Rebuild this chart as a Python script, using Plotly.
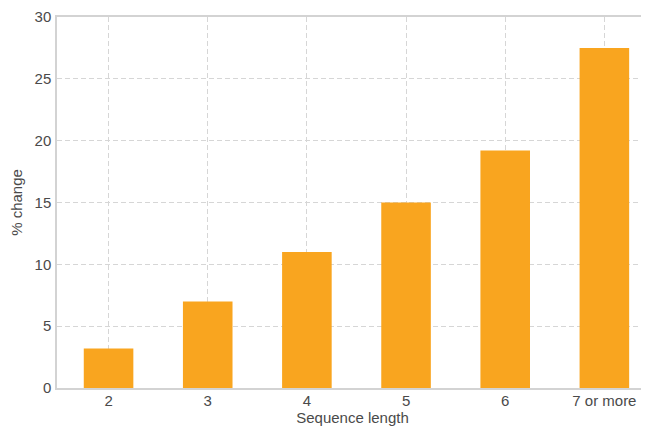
import plotly.graph_objects as go

categories = ["2", "3", "4", "5", "6", "7 or more"]
pct_change = [3.2, 7.0, 11.0, 15.0, 19.2, 27.5]
y_ticks = [0, 5, 10, 15, 20, 25, 30]

FONT = "Liberation Sans, Arial, sans-serif"

fig = go.Figure()
fig.add_trace(go.Bar(
    x=list(range(len(categories))), y=pct_change,
    marker=dict(color="#F9A51F", line=dict(width=0)),
    width=0.5,
))

axis_common = dict(
    showline=True, linecolor="#d3d3d3", linewidth=1.5, mirror=True,
    showgrid=True, gridcolor="#d6d6d6", griddash="5px,3px", gridwidth=1,
    ticks="", zeroline=False,
    tickfont=dict(family=FONT, size=15, color="#4a4a4a"),
    title_font=dict(family=FONT, size=15, color="#4a4a4a"),
    ticklabeloverflow="allow",
)

# page body has an 8px default margin; figure is sized so the plot area
# lands where the reference has it
fig.update_layout(
    width=642, height=422,
    margin=dict(l=49, r=0, t=8, b=42),
    plot_bgcolor="white", paper_bgcolor="white",
    showlegend=False,
    xaxis=dict(
        tickmode="array", tickvals=list(range(len(categories))), ticktext=categories,
        range=[-0.52, 5.44], title=dict(text="Sequence length", standoff=2),
        ticklabelstandoff=-2,
        **axis_common,
    ),
    yaxis=dict(
        tickmode="array", tickvals=y_ticks, range=[0, 30],
        title=dict(text="% change", standoff=12),
        ticklabelstandoff=1,
        **axis_common,
    ),
)

fig.write_html("out.html")
